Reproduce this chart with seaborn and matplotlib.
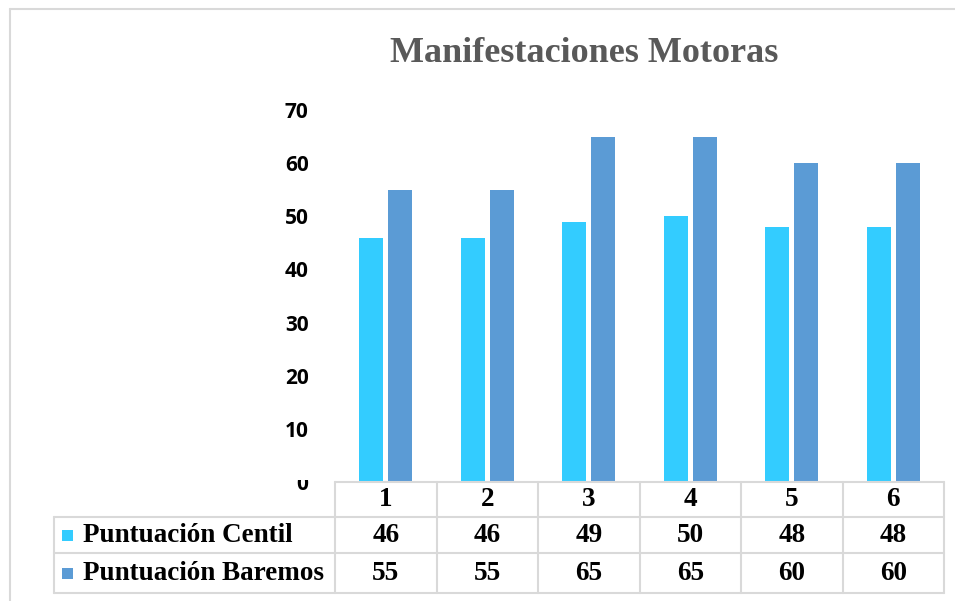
import numpy as np
import pandas as pd
import matplotlib
matplotlib.use("Agg")
import matplotlib.pyplot as plt
import matplotlib.transforms as mtransforms
from matplotlib.patches import Rectangle
from matplotlib.lines import Line2D
import seaborn as sns

# datos del grafico
categorias = ["1", "2", "3", "4", "5", "6"]
centil = [46, 46, 49, 50, 48, 48]
baremos = [55, 55, 65, 65, 60, 60]
series = ["Puntuación Centil", "Puntuación Baremos"]
colores = ["#33CCFF", "#5B9BD5"]
y_ticks = [0, 10, 20, 30, 40, 50, 60, 70]

df = pd.DataFrame({
    "categoria": categorias * 2,
    "serie": [series[0]] * len(categorias) + [series[1]] * len(categorias),
    "valor": centil + baremos,
})

sns.set_style("white")

W, H = 955, 601
fig = plt.figure(figsize=(W / 100, H / 100), dpi=100)
# area del grafico en pixeles: x 335-944, y 110 (70) - 482 (0)
ax = fig.add_axes([335 / W, 1 - 482 / H, (944 - 335) / W, (482 - 110) / H])

sns.barplot(data=df, x="categoria", y="valor", hue="serie", order=categorias,
            palette=colores, width=0.575, gap=0.17, saturation=1,
            linewidth=0, legend=False, ax=ax)

ax.set_xlim(-0.5, len(categorias) - 0.5)
ax.set_ylim(0, 70)
ax.set_yticks(y_ticks)
ax.set_yticklabels([str(t) for t in y_ticks], fontfamily="Open Sans",
                   fontweight="bold", fontsize=15, color="black")
ax.tick_params(axis="y", length=0, pad=19)
ax.set_xticks([])
ax.set_xlabel("")
ax.set_ylabel("")
ax.grid(False)
for s in ax.spines.values():
    s.set_visible(False)

# titulo
fig.text(584 / W, 1 - 54 / H, "Manifestaciones Motoras", ha="center", va="center",
         fontfamily="Liberation Serif", fontweight="bold", fontsize=26,
         color="#595959")

# borde exterior del grafico
fig.add_artist(Line2D([10 / W, 1.0], [1 - 9 / H, 1 - 9 / H], color="#D9D9D9", lw=1.5))
fig.add_artist(Line2D([10 / W, 10 / W], [0, 1 - 9 / H], color="#D9D9D9", lw=1.5))

# tapar la parte de arriba del "0" como en la imagen
fig.add_artist(Rectangle((280 / W, 1 - 480 / H), 40 / W, 12 / H,
                         facecolor="white", edgecolor="none", zorder=10))

# tabla de datos debajo del eje
trans = mtransforms.blended_transform_factory(ax.transData, ax.transAxes)
col_w = 101.5


def fy(p):
    return (482 - p) / 372


def fx(p):
    return -0.5 + (p - 335) / col_w


gris = "#D9D9D9"
x0, x1 = -0.5, len(categorias) - 0.5
xl = fx(54)
filas = [482, 517, 553, 593]

lineas = [([x0, x1], [fy(filas[0])] * 2)]
for p in filas[1:]:
    lineas.append(([xl, x1], [fy(p)] * 2))
for i in range(len(categorias) + 1):
    lineas.append(([x0 + i] * 2, [fy(filas[0]), fy(filas[-1])]))
lineas.append(([xl, xl], [fy(filas[1]), fy(filas[-1])]))
for xs, ys in lineas:
    ax.add_line(Line2D(xs, ys, transform=trans, color=gris, lw=1.5, clip_on=False))

fuente = dict(fontfamily="Liberation Serif", fontweight="bold", fontsize=19.5,
              color="black", transform=trans, clip_on=False)

for i, c in enumerate(categorias):
    ax.text(i, fy((filas[0] + filas[1]) / 2), c, ha="center", va="center", **fuente)
    ax.text(i, fy((filas[1] + filas[2]) / 2), str(centil[i]), ha="center", va="center", **fuente)
    ax.text(i, fy((filas[2] + filas[3]) / 2), str(baremos[i]), ha="center", va="center", **fuente)

for k, (nombre, col) in enumerate(zip(series, colores)):
    yc = (filas[k + 1] + filas[k + 2]) / 2
    ax.add_patch(Rectangle((fx(62), fy(yc + 5.5)), 11 / col_w, 11 / 372,
                           transform=trans, facecolor=col, edgecolor="none",
                           clip_on=False))
    ax.text(fx(83), fy(yc), nombre, ha="left", va="center", **fuente)

fig.savefig("out.png", dpi=100, facecolor="white")
